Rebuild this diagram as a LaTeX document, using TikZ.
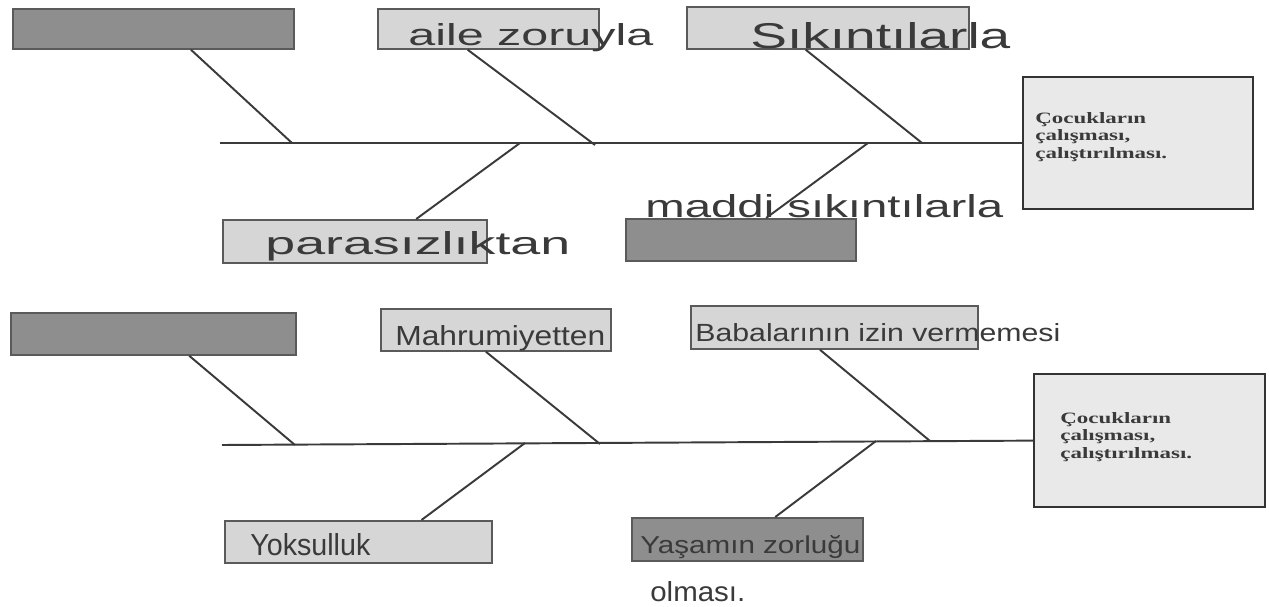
\documentclass[tikz,border=0pt]{standalone}
\usepackage{fontspec}
\usepackage{graphicx}
\usetikzlibrary{calc}
\setmainfont{Liberation Serif}
\newfontfamily\hwfont{Liberation Sans}
\newfontfamily\effont[FakeStretch=1.45]{Liberation Serif}
\newcommand\hw[3]{\resizebox{#1}{#2}{\hwfont #3}}
\definecolor{lightfill}{HTML}{D6D6D6}
\definecolor{darkfill}{HTML}{8E8E8E}
\definecolor{efffill}{HTML}{E9E9E9}
\definecolor{boxline}{HTML}{5A5A5A}
\definecolor{ink}{HTML}{3A3A3A}
\begin{document}
\begin{tikzpicture}[x=0.02cm,y=-0.02cm,
  lbox/.style={draw=boxline, line width=1pt, fill=lightfill, inner sep=0pt, anchor=north west},
  dbox/.style={lbox, fill=darkfill},
  effbox/.style={draw=black!80, line width=1.3pt, fill=efffill, inner sep=0pt, anchor=north west},
  bone/.style={draw=ink, line width=1.1pt},
  hand/.style={text=ink, inner sep=0pt, anchor=west},
  efftext/.style={text=ink, inner sep=0pt, anchor=west, align=left,
    font=\effont\bfseries\fontsize{9}{9.9}\selectfont}]
\fill[white] (0,0) rectangle (1269,607);

% ---------- upper diagram ----------
\node[dbox, minimum width=5.62cm, minimum height=0.8cm] (tl1) at (12,8) {};
\node[lbox, minimum width=4.42cm, minimum height=0.8cm] (tm1) at (377,8) {};
\node[lbox, minimum width=5.64cm, minimum height=0.84cm] (tr1) at (686,6) {};
\node[lbox, minimum width=5.28cm, minimum height=0.86cm] (bl1) at (222,219) {};
\node[dbox, minimum width=4.6cm, minimum height=0.84cm] (br1) at (625,218) {};
\node[effbox, minimum width=4.6cm, minimum height=2.64cm] (eff1) at (1022,76) {};
\node[efftext] (efft1) at (1035,137) {Çocukların\\çalışması,\\çalıştırılması.};

\coordinate (s1) at (220,143);
\coordinate (j11) at (292,143);
\coordinate (j12) at (595,145);
\coordinate (j13) at (922,143);
\coordinate (j14) at (520,143);
\coordinate (j15) at (868,143);
\draw[bone] (s1) -- (s1 -| eff1.west);
\draw[bone] ($(tl1.south west)!0.633!(tl1.south east)$) -- (j11);
\draw[bone] ($(tm1.south west)!0.407!(tm1.south east)$) -- (j12);
\draw[bone] ($(tr1.south west)!0.422!(tr1.south east)$) -- (j13);
\draw[bone] ($(bl1.north west)!0.731!(bl1.north east)$) -- (j14);
\draw[bone] ($(br1.north west)!0.609!(br1.north east)$) -- (j15);

\node[hand] (l12) at (408,38) {\hw{4.9cm}{0.44cm}{aile zoruyla}};
\node[hand] (l13) at (750,36) {\hw{5.2cm}{0.52cm}{Sıkıntılarla}};
\node[hand] (l14) at (265,246) {\hw{6.1cm}{0.46cm}{parasızlıktan}};
\node[hand] (l15) at (645,206) {\hw{7.16cm}{0.46cm}{maddi sıkıntılarla}};

% ---------- lower diagram ----------
\node[dbox, minimum width=5.7cm, minimum height=0.84cm] (tl2) at (10,312) {};
\node[lbox, minimum width=4.6cm, minimum height=0.84cm] (tm2) at (380,308) {};
\node[lbox, minimum width=5.74cm, minimum height=0.86cm] (tr2) at (690,305) {};
\node[lbox, minimum width=5.34cm, minimum height=0.84cm] (bl2) at (224,520) {};
\node[dbox, minimum width=4.62cm, minimum height=0.86cm] (br2) at (631,517) {};
\node[effbox, minimum width=4.62cm, minimum height=2.66cm] (eff2) at (1033,373) {};
\node[efftext] (efft2) at (1060,437) {Çocukların\\çalışması,\\çalıştırılması.};

\coordinate (s2) at (222,445);
\coordinate (j21) at (295,445);
\coordinate (j22) at (600,444);
\coordinate (j23) at (930,441);
\coordinate (j24) at (525,443);
\coordinate (j25) at (876,441);
\draw[bone] (s2) -- (eff2.west);
\draw[bone] ($(tl2.south west)!0.625!(tl2.south east)$) -- (j21);
\draw[bone] ($(tm2.south west)!0.457!(tm2.south east)$) -- (j22);
\draw[bone] ($(tr2.south west)!0.45!(tr2.south east)$) -- (j23);
\draw[bone] ($(bl2.north west)!0.735!(bl2.north east)$) -- (j24);
\draw[bone] ($(br2.north west)!0.62!(br2.north east)$) -- (j25);

\node[hand] (l22) at (395,338) {\hw{4.2cm}{0.4cm}{Mahrumiyetten}};
\node[hand] (l23) at (695,333) {\hw{7.3cm}{0.36cm}{Babalarının izin vermemesi}};
\node[hand] (l24) at (250,545) {\hw{2.4cm}{0.44cm}{Yoksulluk}};
\node[hand] (l25) at (640,547) {\hw{4.4cm}{0.36cm}{Yaşamın zorluğu}};
\node[hand] (l26) at (650,592) {\hw{1.9cm}{0.4cm}{olması.}};
\end{tikzpicture}
\end{document}
